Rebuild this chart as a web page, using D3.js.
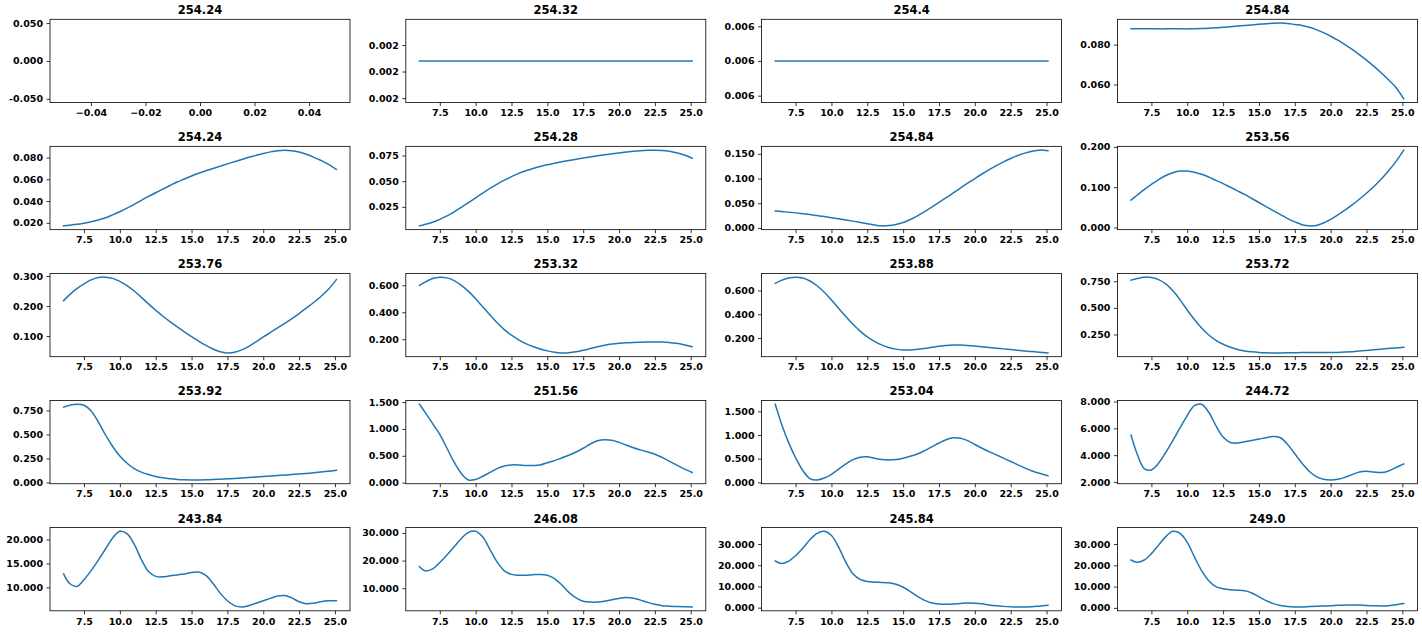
<!DOCTYPE html>
<html><head><meta charset="utf-8">
<script src="https://cdn.jsdelivr.net/npm/d3@7"></script>
<style>body{margin:0;background:#fff} svg{display:block}</style>
</head><body><svg id="c" width="1422" height="632"></svg>
<script>
// ---------- data ----------
const xValues = [6.08,6.5,7,7.5,8,8.5,9,9.5,10,10.5,11,11.5,12,12.5,13,13.5,14,14.5,15,15.5,16,16.5,17,17.5,18,18.5,19,19.5,20,20.5,21,21.5,22,22.5,23,23.5,24,24.5,25.1];
const xTicksMain = [7.5,10,12.5,15,17.5,20,22.5,25];
const xTicksEmpty = [-0.04,-0.02,0,0.02,0.04];

const titles = ["254.24","254.32","254.4","254.84",
                "254.24","254.28","254.84","253.56",
                "253.76","253.32","253.88","253.72",
                "253.92","251.56","253.04","244.72",
                "243.84","246.08","245.84","249.0"];

const v_r1c1 = [];
const v_r1c2 = [0.00157,0.00157,0.00157,0.00157,0.00157,0.00157,0.00157,0.00157,0.00157,0.00157,0.00157,0.00157,0.00157,0.00157,0.00157,0.00157,0.00157,0.00157,0.00157,0.00157,0.00157,0.00157,0.00157,0.00157,0.00157,0.00157,0.00157,0.00157,0.00157,0.00157,0.00157,0.00157,0.00157,0.00157,0.00157,0.00157,0.00157,0.00157,0.00157];
const v_r1c3 = [0.006,0.006,0.006,0.006,0.006,0.006,0.006,0.006,0.006,0.006,0.006,0.006,0.006,0.006,0.006,0.006,0.006,0.006,0.006,0.006,0.006,0.006,0.006,0.006,0.006,0.006,0.006,0.006,0.006,0.006,0.006,0.006,0.006,0.006,0.006,0.006,0.006,0.006,0.006];
const v_r1c4 = [.0880,.0880,.0880,.0880,.0879,.0879,.0879,.0879,.0879,.0880,
  .0881,.0882,.0884,.0887,.0890,.0893,.0896,.0899,.0902,.0905,
  .0907,.0908,.0906,.0901,.0896,.0887,.0875,.0860,.0842,.0822,
  .0800,.0776,.0750,.0722,.0692,.0660,.0626,.0590,.0528];
const v_r2c1 = [.0172,.0178,.0186,.0197,.0210,.0226,.0246,.0273,.0302,.0335,
  .0370,.0407,.0443,.0476,.0510,.0543,.0575,.0603,.0630,.0655,
  .0678,.0700,.0721,.0742,.0762,.0782,.0802,.0820,.0837,.0852,
  .0863,.0868,.0863,.0850,.0830,.0804,.0775,.0742,.0692];
const v_r2c2 = [.0065,.0080,.0100,.0128,.0162,.0202,.0246,.0292,.0338,.0385,
  .0430,.0472,.0510,.0545,.0576,.0602,.0624,.0643,.0660,.0675,
  .0689,.0702,.0714,.0726,.0737,.0748,.0758,.0767,.0776,.0784,
  .0792,.0798,.0802,.0803,.0800,.0792,.0778,.0758,.0724];
const v_r2c3 = [.0345,.0335,.0320,.0305,.0288,.0270,.0250,.0230,.0208,.0185,
  .0162,.0138,.0112,.0085,.0060,.0042,.0048,.0070,.0110,.0170,
  .0245,.0330,.0420,.0515,.0612,.0710,.0808,.0905,.1000,.1092,
  .1180,.1262,.1338,.1406,.1465,.1515,.1553,.1575,.1565];
const v_r2c4 = [.068,.080,.094,.107,.119,.129,.136,.140,.140,.137,
  .132,.125,.117,.109,.100,.091,.082,.072,.062,.052,
  .042,.032,.022,.014,.007,.004,.005,.011,.020,.031,
  .043,.056,.070,.085,.101,.119,.139,.161,.192];
const v_r3c1 = [.218,.238,.258,.274,.287,.295,.296,.292,.282,.268,
  .250,.229,.207,.186,.166,.148,.131,.114,.098,.083,
  .069,.057,.048,.044,.046,.054,.066,.081,.097,.112,
  .127,.142,.158,.175,.193,.211,.231,.253,.288];
const v_r3c2 = [.600,.625,.650,.660,.655,.635,.600,.555,.500,.440,
  .380,.322,.272,.230,.196,.168,.146,.128,.114,.104,
  .099,.100,.107,.118,.131,.144,.156,.165,.171,.175,
  .177,.178,.179,.180,.180,.177,.170,.160,.145];
const v_r3c3 = [.660,.685,.705,.712,.705,.680,.640,.585,.520,.450,
  .380,.315,.258,.210,.172,.142,.120,.106,.099,.099,
  .104,.112,.121,.130,.137,.140,.140,.137,.132,.126,
  .120,.114,.108,.102,.096,.090,.085,.080,.074];
const v_r3c4 = [.760,.775,.788,.785,.765,.725,.660,.575,.480,.390,
  .310,.245,.195,.158,.130,.110,.096,.087,.081,.078,
  .077,.077,.078,.079,.080,.080,.080,.080,.080,.082,
  .085,.089,.094,.100,.106,.112,.118,.124,.130];
const v_r4c1 = [.785,.805,.815,.805,.745,.630,.495,.375,.275,.200,
  .145,.108,.082,.063,.049,.039,.032,.028,.026,.026,
  .027,.030,.034,.038,.042,.047,.052,.057,.062,.067,
  .072,.077,.082,.088,.094,.101,.108,.116,.126];
const v_r4c2 = [1.46,1.30,1.10,0.90,0.64,0.38,0.17,0.05,0.06,0.12,
  0.19,0.26,0.31,0.33,0.33,0.32,0.32,0.33,0.37,0.41,
  0.46,0.51,0.57,0.64,0.72,0.78,0.80,0.79,0.75,0.70,
  0.65,0.61,0.57,0.53,0.47,0.40,0.33,0.26,0.19];
const v_r4c3 = [1.65,1.25,0.85,0.52,0.25,0.08,0.05,0.09,0.17,0.28,
  0.39,0.48,0.53,0.54,0.51,0.48,0.47,0.48,0.51,0.55,
  0.60,0.67,0.75,0.83,0.90,0.94,0.93,0.88,0.80,0.72,
  0.65,0.58,0.51,0.44,0.37,0.30,0.24,0.19,0.14];
const v_r4c4 = [5.50,4.10,3.00,2.90,3.40,4.20,5.10,6.05,6.95,7.70,
  7.80,7.20,6.20,5.35,4.95,4.90,5.00,5.10,5.20,5.30,
  5.40,5.30,4.80,4.10,3.40,2.80,2.40,2.20,2.15,2.20,
  2.35,2.55,2.75,2.80,2.75,2.70,2.80,3.05,3.35];
const v_r5c1 = [12.8,10.8,10.2,11.6,13.5,15.7,18.0,20.3,21.7,21.2,
  19.0,15.8,13.3,12.3,12.2,12.4,12.6,12.8,13.1,13.2,
  12.5,10.8,8.8,7.2,6.2,5.9,6.2,6.7,7.2,7.7,
  8.2,8.3,7.8,7.0,6.6,6.7,7.0,7.2,7.2];
const v_r5c2 = [17.8,16.3,17.0,19.3,22.0,25.0,28.0,30.2,30.6,28.5,
  24.0,19.5,16.3,15.0,14.7,14.7,14.9,15.0,14.7,13.5,
  11.2,8.5,6.5,5.3,5.0,5.0,5.3,5.8,6.3,6.6,
  6.4,5.7,4.9,4.2,3.7,3.5,3.4,3.3,3.2];
const v_r5c3 = [22.0,20.8,21.8,24.5,28.0,32.0,35.0,36.0,34.0,28.5,
  21.5,16.0,13.3,12.3,12.0,11.9,11.7,11.0,9.6,7.6,
  5.3,3.4,2.2,1.7,1.6,1.7,2.0,2.2,2.1,1.8,
  1.3,0.9,0.6,0.4,0.3,0.3,0.4,0.7,1.1];
const v_r5c4 = [22.5,21.4,22.5,25.5,29.5,33.5,36.0,35.0,30.8,24.0,
  17.5,12.8,10.0,9.0,8.5,8.3,8.0,7.0,5.2,3.4,
  2.0,1.1,0.6,0.4,0.4,0.6,0.8,0.9,1.0,1.2,
  1.3,1.4,1.3,1.1,1.0,0.9,1.0,1.4,2.0];

const yt_r1c1 = [-0.05,0,0.05];
const yt_r1c2 = [0.0015,0.00155,0.0016];
const yt_r1c3 = [0.00575,0.006,0.00625];
const yt_r1c4 = [0.06,0.08];
const yt_r2c1 = [0.02,0.04,0.06,0.08];
const yt_r2c2 = [0.025,0.05,0.075];
const yt_r2c3 = [0,0.05,0.1,0.15];
const yt_r2c4 = [0,0.1,0.2];
const yt_r3c1 = [0.1,0.2,0.3];
const yt_r3c2 = [0.2,0.4,0.6];
const yt_r3c3 = [0.2,0.4,0.6];
const yt_r3c4 = [0.25,0.5,0.75];
const yt_r4c1 = [0,0.25,0.5,0.75];
const yt_r4c2 = [0,0.5,1,1.5];
const yt_r4c3 = [0,0.5,1,1.5];
const yt_r4c4 = [2,4,6,8];
const yt_r5c1 = [10,15,20];
const yt_r5c2 = [10,20,30];
const yt_r5c3 = [0,10,20,30];
const yt_r5c4 = [0,10,20,30];

const panelValues = [v_r1c1,v_r1c2,v_r1c3,v_r1c4,v_r2c1,v_r2c2,v_r2c3,v_r2c4,
  v_r3c1,v_r3c2,v_r3c3,v_r3c4,v_r4c1,v_r4c2,v_r4c3,v_r4c4,v_r5c1,v_r5c2,v_r5c3,v_r5c4];
const panelYTicks = [yt_r1c1,yt_r1c2,yt_r1c3,yt_r1c4,yt_r2c1,yt_r2c2,yt_r2c3,yt_r2c4,
  yt_r3c1,yt_r3c2,yt_r3c3,yt_r3c4,yt_r4c1,yt_r4c2,yt_r4c3,yt_r4c4,yt_r5c1,yt_r5c2,yt_r5c3,yt_r5c4];

// ---------- drawing ----------
const svg = d3.select("#c");
const W = 300, H = 83.3, left0 = 50, dx = 355.8, top0 = 19.3, dy = 127.05;
const FONT = "'DejaVu Sans', sans-serif";
const yFmt = v => (Math.round(v * 1000) / 1000).toFixed(3);

panelValues.forEach((vals, i) => {
  const r = Math.floor(i / 4), c = i % 4;
  const g = svg.append("g").attr("transform", `translate(${left0 + c * dx},${top0 + r * dy})`);
  let xd, yd, xt, xf;
  if (vals.length === 0) {
    xd = [-0.055, 0.055]; yd = [-0.055, 0.055]; xt = xTicksEmpty; xf = d3.format(".2f");
  } else {
    const x0 = d3.min(xValues), x1 = d3.max(xValues), m = (x1 - x0) * 0.05;
    xd = [x0 - m, x1 + m];
    const y0 = d3.min(vals), y1 = d3.max(vals);
    if (y1 - y0 <= Math.abs(y1) * 1e-12) yd = [y0 - 0.05 * Math.abs(y0), y1 + 0.05 * Math.abs(y1)];
    else { const mm = (y1 - y0) * 0.05; yd = [y0 - mm, y1 + mm]; }
    xt = xTicksMain; xf = d3.format(".1f");
  }
  const x = d3.scaleLinear().domain(xd).range([0, W]);
  const y = d3.scaleLinear().domain(yd).range([H, 0]);

  if (vals.length) {
    const line = d3.line().x((d, k) => x(xValues[k])).y(d => y(d)).curve(d3.curveCatmullRom.alpha(0.5));
    g.append("path").datum(vals).attr("d", line)
      .attr("fill", "none").attr("stroke", "#1f77b4").attr("stroke-width", 1.5)
      .attr("stroke-linejoin", "round").attr("stroke-linecap", "square");
  }

  const gx = g.append("g").attr("transform", `translate(0,${H})`)
    .call(d3.axisBottom(x).tickValues(xt).tickFormat(xf).tickSize(3.5).tickPadding(3.5));
  const gy = g.append("g")
    .call(d3.axisLeft(y).tickValues(panelYTicks[i]).tickFormat(yFmt).tickSize(3.5).tickPadding(3.5));
  [gx, gy].forEach(a => {
    a.select(".domain").remove();
    a.attr("font-family", FONT).attr("font-size", 9.5).attr("font-weight", "bold");
    a.selectAll("line").attr("stroke", "#000").attr("stroke-width", 0.8);
    a.selectAll("text").attr("fill", "#000");
  });

  g.append("rect").attr("x", 0).attr("y", 0).attr("width", W).attr("height", H)
    .attr("fill", "none").attr("stroke", "#000").attr("stroke-width", 0.8);

  g.append("text").attr("x", W / 2).attr("y", -5).attr("text-anchor", "middle")
    .attr("font-family", FONT).attr("font-size", 11.5).attr("font-weight", "bold")
    .attr("fill", "#000").text(titles[i]);
});
</script></body></html>
